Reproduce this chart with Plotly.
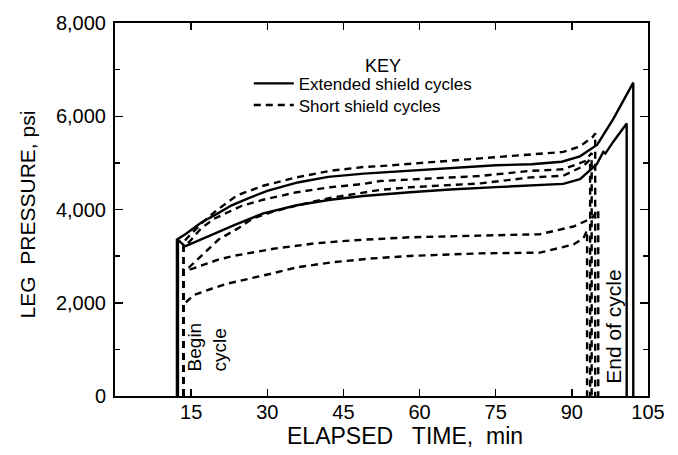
import plotly.graph_objects as go

# ---- data ----
# Extended shield cycles (solid)
ext1_t = [12.4, 12.4, 14, 17, 20, 23, 26, 30, 36, 42, 49, 58, 66, 75, 82, 88, 91.6, 95, 98.2, 102.1, 102.1]
ext1_p = [0, 3370, 3480, 3720, 3900, 4090, 4230, 4400, 4580, 4700, 4770, 4830, 4890, 4950, 4970, 5025, 5140, 5390, 5950, 6720, 0]

ext2_t = [12.2, 12.2, 13.8, 17, 20, 23.6, 29.2, 35.8, 42.4, 48.9, 58.1, 66, 75, 82, 88.3, 91.6, 94.9, 96.2, 96.6, 98.2, 100.8, 100.8]
ext2_p = [0, 3370, 3210, 3360, 3510, 3670, 3916, 4090, 4210, 4290, 4370, 4430, 4480, 4510, 4550, 4650, 4970, 5235, 5200, 5460, 5846, 0]

# Short shield cycles (dashed)
sh1_t = [13.5, 13.5, 14.5, 17, 20, 24, 29.2, 35.8, 42.4, 48.9, 52.2, 58.1, 66, 72, 81.8, 88.3, 91.6, 94.2, 94.6, 94.6]
sh1_p = [0, 3300, 3420, 3700, 3980, 4300, 4510, 4690, 4830, 4910, 4930, 4980, 5050, 5110, 5180, 5235, 5354, 5565, 5635, 0]

sh2_t = [13.5, 13.5, 14.6, 17, 19.5, 22.7, 25, 29.2, 35.8, 42.4, 48.9, 52.2, 58.1, 66, 72, 81.8, 88.3, 92.6, 93.9, 93.9]
sh2_p = [0, 3250, 3300, 3600, 3800, 3970, 4080, 4210, 4370, 4477, 4547, 4610, 4640, 4690, 4720, 4828, 4863, 5038, 5214, 0]

sh3_t = [13.5, 13.5, 14.6, 17.7, 20.4, 24.3, 27, 31, 36, 42.4, 52.2, 58.1, 66, 72, 81.8, 88.3, 92.3, 93.6, 93.6]
sh3_p = [0, 2720, 2760, 3070, 3355, 3600, 3800, 3950, 4090, 4250, 4420, 4477, 4530, 4560, 4688, 4723, 4933, 5074, 0]

sh4_t = [13.5, 13.5, 15, 20.5, 23.3, 31.2, 39.1, 46.9, 58.1, 72, 83.7, 90.3, 93.9, 95.2, 95.2]
sh4_p = [0, 2700, 2720, 2930, 3004, 3158, 3270, 3340, 3404, 3440, 3470, 3635, 3810, 3990, 0]

sh5_t = [13.5, 13.5, 13.8, 15.4, 19, 22, 30.5, 35.8, 42.4, 50.2, 58.1, 72, 83.7, 90.3, 92.3, 93.0, 93.0]
sh5_p = [0, 2000, 1990, 2160, 2300, 2406, 2617, 2758, 2863, 2947, 3004, 3060, 3074, 3249, 3390, 3550, 0]

x_ticks = [15, 30, 45, 60, 75, 90, 105]
x_ticklabels = ["15", "30", "45", "60", "75", "90", "105"]
y_ticks = [0, 2000, 4000, 6000, 8000]
y_ticklabels = ["0", "2,000", "4,000", "6,000", "8,000"]

solid_series = [(ext1_t, ext1_p), (ext2_t, ext2_p)]
dashed_series = [(sh1_t, sh1_p), (sh2_t, sh2_p), (sh3_t, sh3_p), (sh4_t, sh4_p), (sh5_t, sh5_p)]

FONT = "Liberation Sans, Arial, sans-serif"
BLACK = "black"

fig = go.Figure()
for i, (t, p) in enumerate(solid_series):
    fig.add_trace(go.Scatter(x=t, y=p, mode="lines",
                             line=dict(color=BLACK, width=2.4),
                             name="Extended shield cycles", legendgroup="ext", legend="legend",
                             showlegend=(i == 0), hoverinfo="skip"))
for i, (t, p) in enumerate(dashed_series):
    fig.add_trace(go.Scatter(x=t, y=p, mode="lines",
                             line=dict(color=BLACK, width=2.4, dash="7px,5px"),
                             name="Short shield cycles", legendgroup="short", legend="legend2",
                             showlegend=(i == 0), hoverinfo="skip"))

fig.add_annotation(x=18.2, y=1050, text="Begin<br>cycle", textangle=-90, showarrow=False,
                   align="left", font=dict(family=FONT, size=19, color=BLACK))
fig.add_annotation(x=98.2, y=1495, text="End of cycle", textangle=-90, showarrow=False,
                   font=dict(family=FONT, size=21, color=BLACK))
fig.add_annotation(xref="paper", yref="paper", x=0.503, y=0.885, text="KEY", showarrow=False,
                   xanchor="center", yanchor="middle",
                   font=dict(family=FONT, size=18, color=BLACK))
# axis titles
fig.add_annotation(xref="paper", yref="paper", x=0.544, y=-0.108,
                   text="ELAPSED&nbsp;&nbsp; TIME,&nbsp; min", showarrow=False,
                   xanchor="center", yanchor="middle",
                   font=dict(family=FONT, size=23, color=BLACK))
fig.add_annotation(xref="paper", yref="paper", x=-0.165, y=0.487,
                   text="LEG&nbsp; PRESSURE, psi", showarrow=False, textangle=-90,
                   xanchor="center", yanchor="middle",
                   font=dict(family=FONT, size=21, color=BLACK))

axis_common = dict(showline=True, linecolor=BLACK, linewidth=2, mirror="ticks",
                   ticks="inside", tickcolor=BLACK, tickwidth=1.5,
                   showgrid=False, zeroline=False,
                   tickfont=dict(family=FONT, size=20, color=BLACK))

fig.update_xaxes(range=[0, 105], tickvals=x_ticks, ticktext=x_ticklabels, ticklen=7,
                 ticklabelstandoff=-3, **axis_common)
fig.update_yaxes(range=[0, 8000], tickvals=y_ticks, ticktext=y_ticklabels, ticklen=8,
                 ticklabelstandoff=3,
                 minor=dict(dtick=1000, ticks="inside", ticklen=5, tickcolor=BLACK, tickwidth=1.5),
                 **axis_common)

legend_common = dict(xanchor="left", yanchor="middle", bgcolor="rgba(0,0,0,0)",
                     font=dict(family=FONT, size=17, color=BLACK), itemwidth=40)
fig.update_layout(
    width=678, height=455,
    margin=dict(l=115, r=30, t=16, b=59),
    plot_bgcolor="white", paper_bgcolor="white",
    legend=dict(x=0.251, y=(396 - 78) / 380, **legend_common),
    legend2=dict(x=0.251, y=(396 - 100) / 380, **legend_common),
)

fig.write_html("out.html", config={"displayModeBar": False, "staticPlot": True},
               post_script="document.body.style.margin='0';")
